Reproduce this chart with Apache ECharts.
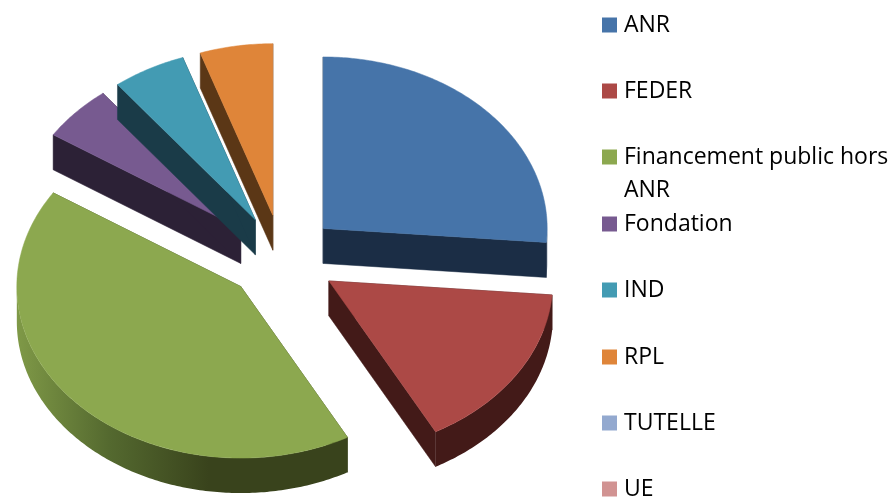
<!DOCTYPE html>
<html>
<head>
<meta charset="utf-8">
<style>html,body{margin:0;padding:0;background:#fff}#c{width:893px;height:497px}</style>
<script src="https://cdn.jsdelivr.net/npm/echarts@6/dist/echarts.min.js"></script>
</head>
<body>
<div id="c"></div>
<script>
// data (percent shares)
const categories = ['ANR', 'FEDER', 'Financement public hors ANR', 'Fondation', 'IND', 'RPL', 'TUTELLE', 'UE'];
const shares = [26.3, 15.8, 42.1, 5.25, 5.3, 5.25, 0, 0];
const legendLines = [['ANR'], ['FEDER'], ['Financement public hors', 'ANR'], ['Fondation'], ['IND'], ['RPL'], ['TUTELLE'], ['UE']];

// styles
const topColors = ['#4674a9', '#ac4946', '#8ca84f', '#775a90', '#439bb3', '#df8539', '#93a9cf', '#d19392'];
const sideColors = ['#1b2d45', '#431a18', '#39431c', '#2c2136', '#1a3b48', '#5b3716', '#93a9cf', '#d19392'];
const drawOrder = [5, 6, 7, 3, 4, 8, 9, 10];
const legendCentres = [24, 90, 156, 223, 289, 356, 422, 488];

// pie geometry
const pie = { cx: 282, cy: 257.5, rx: 224, ry: 171.5, depth: 35, explode: 56 };
const total = shares.reduce((a, b) => a + b, 0);
const rad = d => d * Math.PI / 180;

function renderSlice(index, value, startShare) {
  const a0 = startShare / total * 360, a1 = (startShare + value) / total * 360;
  const mid = rad((a0 + a1) / 2);
  const ax = pie.cx + pie.explode * Math.sin(mid);
  const ay = pie.cy - pie.explode * Math.cos(mid) * pie.ry / pie.rx;
  const pt = (d, dy) => [ax + pie.rx * Math.sin(rad(d)), ay - pie.ry * Math.cos(rad(d)) + (dy || 0)];
  const arc = (from, to, dy) => {
    const out = [];
    const n = Math.max(1, Math.ceil((to - from) / 0.75));
    for (let i = 0; i <= n; i++) out.push(pt(from + (to - from) * i / n, dy));
    return out;
  };
  const side = sideColors[index];
  const children = [];
  [a0, a1].forEach(a => {
    children.push({
      type: 'polygon',
      shape: { points: [[ax, ay], pt(a), pt(a, pie.depth), [ax, ay + pie.depth]] },
      style: { fill: side, stroke: side, lineWidth: 0.5 }
    });
  });
  const w0 = Math.max(a0, 90), w1 = Math.min(a1, 270);
  if (w1 > w0) {
    const front = arc(w0, w1, 0), back = arc(w0, w1, pie.depth).reverse();
    let fill = side;
    if (a1 > 270) {
      // lit wall that runs round the left of the pie
      fill = {
        type: 'linear', x: 1, y: 0, x2: 0, y2: 0,
        colorStops: [
          { offset: 0, color: '#39431c' },
          { offset: 0.42, color: '#39431c' },
          { offset: 0.72, color: '#54692f' },
          { offset: 1, color: '#7f9947' }
        ]
      };
    }
    children.push({ type: 'polygon', shape: { points: front.concat(back) }, style: { fill: fill } });
  }
  children.push({
    type: 'polygon',
    shape: { points: [[ax, ay]].concat(arc(a0, a1, 0)) },
    style: { fill: topColors[index], stroke: topColors[index], lineWidth: 0.5 }
  });
  return { type: 'group', children: children };
}

let cumulative = 0;
const series = categories.map((name, i) => {
  const start = cumulative;
  cumulative += shares[i];
  return {
    type: 'custom',
    name: name,
    coordinateSystem: 'none',
    silent: true,
    z: drawOrder[i],
    itemStyle: { color: topColors[i] },
    data: [[shares[i]]],
    renderItem: (params, api) => {
      const v = api.value(0);
      return v > 0 ? renderSlice(i, v, start) : { type: 'group', children: [] };
    }
  };
});

const fontFamily = '"Open Sans", sans-serif';
const fontSize = 23;
const lineGap = 33;
const legends = categories.map((name, i) => {
  const lines = legendLines[i];
  const wrapped = lines.length > 1;
  const box = wrapped ? lineGap * 3 : lineGap;
  // a wrapped entry gets an empty leading line so that its first line sits level with the swatch
  const text = (wrapped ? ['{t| }'] : []).concat(lines.map(l => '{t|' + l + '}')).join('\n');
  return {
    data: [name],
    orient: 'vertical',
    left: 602,
    top: legendCentres[i] - box / 2 + 6,
    padding: 0,
    icon: 'rect',
    itemWidth: 15,
    itemHeight: 15,
    selectedMode: false,
    formatter: () => text,
    textStyle: {
      rich: {
        t: { fontFamily: fontFamily, fontSize: fontSize, color: '#000', lineHeight: lineGap, padding: [0, 0, 0, 2] }
      }
    }
  };
});

const chart = echarts.init(document.getElementById('c'), null, { renderer: 'canvas' });
chart.setOption({
  animation: false,
  backgroundColor: '#fff',
  color: topColors,
  legend: legends,
  series: series
});
</script>
</body>
</html>
